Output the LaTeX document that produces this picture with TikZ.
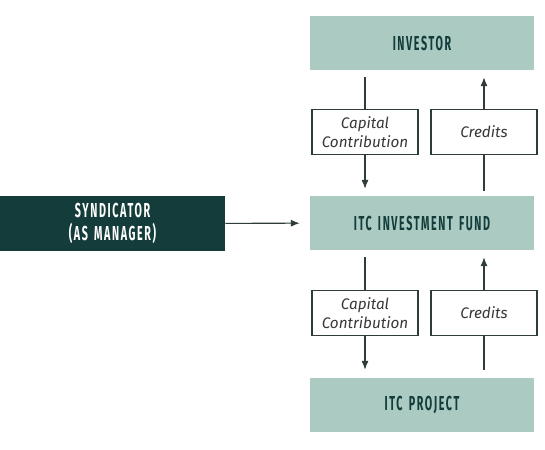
\documentclass[tikz,border=0pt]{standalone}
\usepackage{fontspec}
\setmainfont{Fira Sans}
\newfontfamily\capfont[FakeStretch=0.53,LetterSpace=8,WordSpace=1.5]{Fira Sans}
\usepackage{tikz}
\usetikzlibrary{positioning,arrows.meta,calc}
\definecolor{teallight}{HTML}{AACAC2}
\definecolor{tealdark}{HTML}{133C3A}
\definecolor{inkline}{HTML}{2E3D3C}

\begin{document}
\begin{tikzpicture}[
  x=0.02cm, y=-0.02cm,
  >={Latex[length=5pt,width=4pt]},
  party/.style={fill=teallight,text=tealdark,minimum width=4.48cm,minimum height=1.08cm,
    inner sep=0pt,font=\capfont\bfseries\fontsize{11.5}{13.5}\selectfont},
  mgr/.style={party,fill=tealdark,text=white,minimum width=4.5cm,minimum height=1.1cm,align=center},
  flow/.style={draw=inkline,line width=0.6pt,fill=white,text=black!78,minimum width=2.12cm,
    minimum height=0.9cm,inner sep=0pt,align=center,
    font=\itshape\fontsize{8.7}{11}\selectfont},
  conn/.style={draw=inkline,line width=0.6pt}
]
\useasboundingbox (0,0) rectangle (545,450);

% --- parties on the right ---
\node[party] (inv)  at (422,43)  {INVESTOR};
\node[party] (fund) at (422,223) {ITC INVESTMENT FUND};
\node[party] (proj) at (422,405) {ITC PROJECT};

% --- manager on the left ---
\node[mgr] (synd) at (112.5,223.5) {SYNDICATOR\\(AS MANAGER)};

% --- flow labels ---
\node[flow] (cap1) at (365,132) {Capital\\Contribution};
\node[flow] (cred1) at (484,132) {Credits};
\node[flow] (cap2) at (365,313) {Capital\\Contribution};
\node[flow] (cred2) at (484,313) {Credits};

% --- investor <-> fund ---
\draw[conn,shorten <=0.14cm] (inv.south -| cap1) -- (cap1);
\draw[conn,->,shorten >=0.14cm] (cap1) -- (fund.north -| cap1);
\draw[conn,shorten <=0.1cm] (fund.north -| cred1) -- (cred1);
\draw[conn,->,shorten >=0.14cm] (cred1) -- (inv.south -| cred1);

% --- fund <-> project ---
\draw[conn,shorten <=0.14cm] (fund.south -| cap2) -- (cap2);
\draw[conn,->,shorten >=0.16cm] (cap2) -- (proj.north -| cap2);
\draw[conn,shorten <=0.16cm] (proj.north -| cred2) -- (cred2);
\draw[conn,->,shorten >=0.14cm] (cred2) -- (fund.south -| cred2);

% --- manager arrow ---
\draw[conn,->,shorten >=0.2cm] (synd) -- (fund);
\end{tikzpicture}
\end{document}
